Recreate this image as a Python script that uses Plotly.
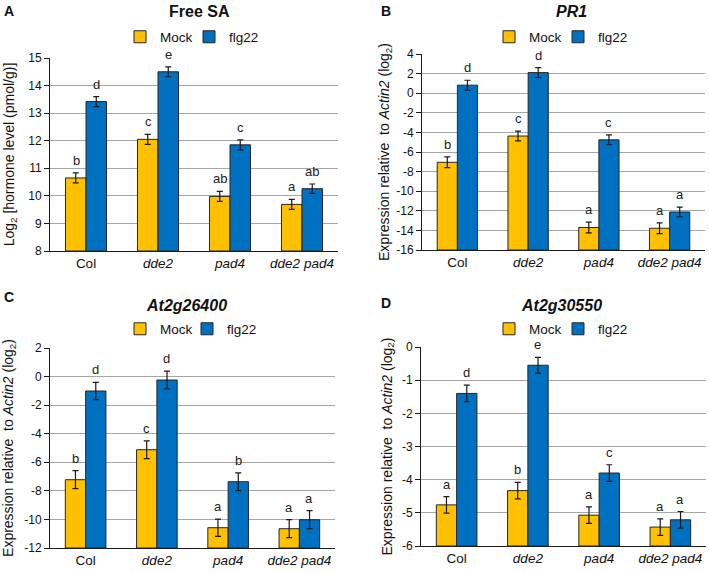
import plotly.graph_objects as go

# ---------------- data ----------------
genotypes = ["Col", "dde2", "pad4", "dde2 pad4"]
genotype_labels = ["Col", "<i>dde2</i>", "<i>pad4</i>", "<i>dde2 pad4</i>"]
series_names = ["Mock", "flg22"]

# Panel A: Free SA
a_mock = [10.65, 12.05, 9.98, 9.69]
a_mock_err = [0.18, 0.18, 0.18, 0.18]
a_flg = [13.42, 14.50, 11.85, 10.26]
a_flg_err = [0.18, 0.18, 0.18, 0.17]
a_mock_letters = ["b", "c", "ab", "a"]
a_flg_letters = ["d", "e", "c", "ab"]

# Panel B: PR1
b_mock = [-7.05, -4.37, -13.70, -13.78]
b_mock_err = [0.55, 0.5, 0.55, 0.55]
b_flg = [0.82, 2.10, -4.76, -12.12]
b_flg_err = [0.5, 0.5, 0.5, 0.5]
b_mock_letters = ["b", "c", "a", "a"]
b_flg_letters = ["d", "d", "c", "a"]

# Panel C: At2g26400
c_mock = [-7.22, -5.12, -10.58, -10.65]
c_mock_err = [0.63, 0.62, 0.6, 0.63]
c_flg = [-1.01, -0.24, -7.36, -10.02]
c_flg_err = [0.61, 0.62, 0.62, 0.63]
c_mock_letters = ["b", "c", "a", "a"]
c_flg_letters = ["d", "d", "b", "a"]

# Panel D: At2g30550
d_mock = [-4.76, -4.33, -5.07, -5.43]
d_mock_err = [0.25, 0.25, 0.25, 0.25]
d_flg = [-1.40, -0.55, -3.80, -5.21]
d_flg_err = [0.25, 0.24, 0.25, 0.25]
d_mock_letters = ["a", "b", "a", "a"]
d_flg_letters = ["d", "e", "c", "a"]

panel_letters = ["A", "B", "C", "D"]
panel_titles = ["<b>Free SA</b>", "<b><i>PR1</i></b>", "<b><i>At2g26400</i></b>", "<b><i>At2g30550</i></b>"]
y_titles = [
    "Log<sub>2</sub> [hormone level (pmol/g)]",
    "Expression relative  to <i>Actin2</i> (log<sub>2</sub>)",
    "Expression relative  to <i>Actin2</i> (log<sub>2</sub>)",
    "Expression relative  to <i>Actin2</i> (log<sub>2</sub>)",
]
y_ranges = [(8, 15), (-16, 4), (-12, 2), (-6, 0)]
y_dticks = [1, 2, 2, 1]

# ---------------- style ----------------
W, H = 709, 572
FONT = "Arial, Liberation Sans, sans-serif"
MOCK_COLOR = "#FFC000"
FLG_COLOR = "#0070C0"
GRID = "#A6A6A6"

# plot-area boxes in pixels (left, top, right, bottom)
boxes = [(50, 58, 338, 251), (422, 54, 705, 250), (50, 348, 335, 548), (421, 347, 706, 546)]
title_pos = [(199, 12), (571, 12), (187, 305), (561, 305)]
label_pos = [(2, 11), (379, 11), (2, 297), (379, 303)]
# left edge of legend swatches (Mock, flg22) and legend row centre
legend_swatch_x = [(134, 203), (503, 572), (134, 201), (503, 572)]
legend_y = [37, 37, 329, 329]
title_standoff = [10, 3, 10, 6]
SWATCH_OFFSET = 14

panels = [
    (a_mock, a_mock_err, a_flg, a_flg_err, a_mock_letters, a_flg_letters),
    (b_mock, b_mock_err, b_flg, b_flg_err, b_mock_letters, b_flg_letters),
    (c_mock, c_mock_err, c_flg, c_flg_err, c_mock_letters, c_flg_letters),
    (d_mock, d_mock_err, d_flg, d_flg_err, d_mock_letters, d_flg_letters),
]

fig = go.Figure()
annotations = []
layout = {}

for i, (mock, mock_err, flg, flg_err, mock_let, flg_let) in enumerate(panels):
    n = i + 1
    xa = "x" if n == 1 else f"x{n}"
    ya = "y" if n == 1 else f"y{n}"
    ymin, ymax = y_ranges[i]
    for k, (name, vals, errs, color, letters, shift) in enumerate([
        (series_names[0], mock, mock_err, MOCK_COLOR, mock_let, -10),
        (series_names[1], flg, flg_err, FLG_COLOR, flg_let, 10),
    ]):
        li = 2 * i + k + 1
        lg = "legend" if li == 1 else f"legend{li}"
        fig.add_trace(go.Bar(
            x=genotypes, y=[v - ymin for v in vals], base=ymin,
            name=name, marker=dict(color=color, line=dict(color="#262626", width=1)),
            error_y=dict(type="data", array=errs, color="#1a1a1a", thickness=1.2, width=3),
            xaxis=xa, yaxis=ya, legend=lg,
        ))
        layout[lg] = dict(
            x=(legend_swatch_x[i][k] - SWATCH_OFFSET) / W, y=1 - legend_y[i] / H,
            xanchor="left", yanchor="middle", orientation="h",
            font=dict(family=FONT, size=13.5, color="#111111"), bgcolor="rgba(0,0,0,0)",
        )
        for g, v, e, t in zip(genotypes, vals, errs, letters):
            annotations.append(dict(
                x=g, y=v + e, xref=xa, yref=ya, text=t, showarrow=False,
                xshift=shift, yshift=3, yanchor="bottom",
                font=dict(family=FONT, size=13, color="#222222"),
            ))

    l, t, r, b = boxes[i]
    xkey = "xaxis" if n == 1 else f"xaxis{n}"
    ykey = "yaxis" if n == 1 else f"yaxis{n}"
    tickvals = list(range(ymin, ymax + 1, y_dticks[i]))
    layout[xkey] = dict(
        domain=[l / W, r / W], anchor=ya, type="category", automargin=False,
        tickvals=genotypes, ticktext=genotype_labels,
        showline=True, linecolor="#1a1a1a", linewidth=1, ticks="",
        tickfont=dict(family=FONT, size=13.5, color="#111111"),
        showgrid=False, fixedrange=True,
    )
    layout[ykey] = dict(
        domain=[1 - b / H, 1 - t / H], anchor=xa, range=[ymin, ymax],
        tickvals=tickvals, ticktext=[str(v) for v in tickvals],
        automargin=False,
        showline=True, linecolor="#1a1a1a", linewidth=1,
        ticks="outside", ticklen=5, tickcolor="#1a1a1a",
        showgrid=True, gridcolor=GRID, gridwidth=1, zeroline=False,
        tickfont=dict(family=FONT, size=12, color="#111111"),
        title=dict(text=y_titles[i], font=dict(family=FONT, size=14, color="#111111"),
                   standoff=title_standoff[i]),
    )
    tx, ty = title_pos[i]
    annotations.append(dict(
        x=tx / W, y=1 - ty / H, xref="paper", yref="paper", text=panel_titles[i],
        showarrow=False, xanchor="center", yanchor="middle",
        font=dict(family=FONT, size=16, color="#111111"),
    ))
    px, py = label_pos[i]
    annotations.append(dict(
        x=px / W, y=1 - py / H, xref="paper", yref="paper", text=f"<b>{panel_letters[i]}</b>",
        showarrow=False, xanchor="left", yanchor="middle",
        font=dict(family=FONT, size=14, color="#111111"),
    ))

fig.update_layout(
    width=W, height=H, margin=dict(l=0, r=0, t=0, b=0),
    paper_bgcolor="white", plot_bgcolor="white",
    barmode="group", bargap=0.43, bargroupgap=0,
    annotations=annotations, showlegend=True,
    font=dict(family=FONT),
    **layout,
)

fig.write_html(
    "out.html",
    config={"displayModeBar": False},
    post_script="document.body.style.margin='0';document.body.style.padding='0';",
)
